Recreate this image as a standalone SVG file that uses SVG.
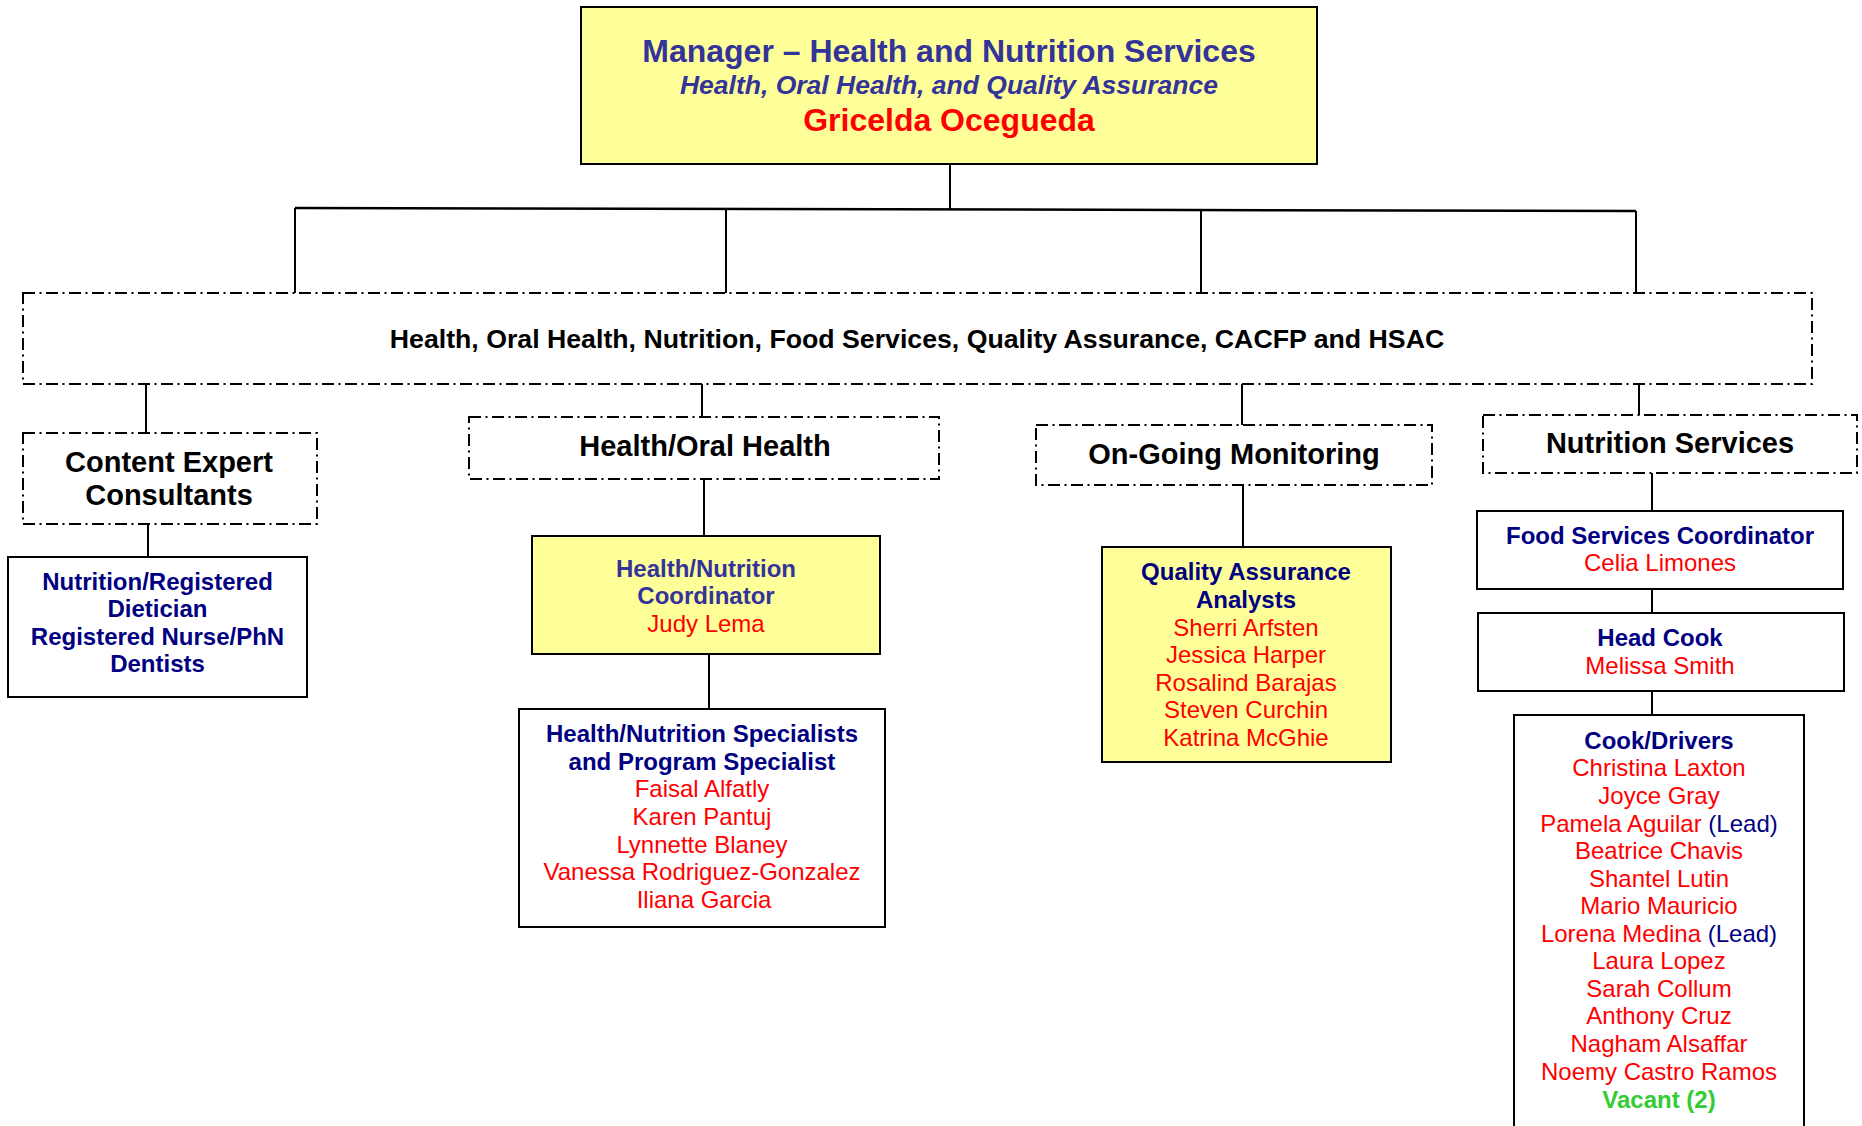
<svg xmlns="http://www.w3.org/2000/svg" width="1862" height="1126" viewBox="0 0 1862 1126">
<style>
text{font-family:"Liberation Sans",Arial,sans-serif;text-anchor:middle}
.box{fill:#fff;stroke:#000;stroke-width:2}
.ybox{fill:#ffff99;stroke:#000;stroke-width:2}
.dbox{fill:#fff;stroke:#000;stroke-width:2;stroke-dasharray:12 4.5 2 4.5}
.ln{stroke:#000;stroke-width:2;fill:none}
.t{font-size:24px;font-weight:bold;fill:#000080}
.tp{font-size:24px;font-weight:bold;fill:#333399}
.n{font-size:24px;fill:#ff0000}
.nv{fill:#000080}
.h{font-size:29px;font-weight:bold;fill:#000}
.g{font-size:24px;font-weight:bold;fill:#33cc33}
</style>
<rect width="1862" height="1126" fill="#fff"/>
<g id="connectors">
<line class="ln" x1="950" y1="164" x2="950" y2="209"/>
<line class="ln" x1="295" y1="208" x2="1636" y2="211" style="stroke-width:2.5"/>
<line class="ln" x1="295" y1="208" x2="295" y2="293"/>
<line class="ln" x1="726" y1="210" x2="726" y2="293"/>
<line class="ln" x1="1201" y1="210" x2="1201" y2="293"/>
<line class="ln" x1="1636" y1="211" x2="1636" y2="293"/>
<line class="ln" x1="146" y1="384" x2="146" y2="433"/>
<line class="ln" x1="702" y1="384" x2="702" y2="417"/>
<line class="ln" x1="1242" y1="384" x2="1242" y2="425"/>
<line class="ln" x1="1639" y1="384" x2="1639" y2="415"/>
<line class="ln" x1="148" y1="524" x2="148" y2="557"/>
<line class="ln" x1="704" y1="479" x2="704" y2="536"/>
<line class="ln" x1="709" y1="654" x2="709" y2="709"/>
<line class="ln" x1="1243" y1="485" x2="1243" y2="547"/>
<line class="ln" x1="1652" y1="473" x2="1652" y2="511"/>
<line class="ln" x1="1652" y1="589" x2="1652" y2="613"/>
<line class="ln" x1="1652" y1="691" x2="1652" y2="715"/>
</g>
<g id="manager">
<rect class="ybox" x="581" y="7" width="736" height="157"/>
<text x="949" y="62" style="font-size:32px;font-weight:bold;fill:#333399">Manager – Health and Nutrition Services</text>
<text x="949" y="94" style="font-size:26.5px;font-weight:bold;font-style:italic;fill:#333399">Health, Oral Health, and Quality Assurance</text>
<text x="949" y="131" style="font-size:32px;font-weight:bold;fill:#ff0000">Gricelda Ocegueda</text>
</g>
<g id="program-areas">
<rect class="dbox" x="23" y="293" width="1789" height="91"/>
<text x="917" y="348" style="font-size:26.7px;font-weight:bold;fill:#000">Health, Oral Health, Nutrition, Food Services, Quality Assurance, CACFP and HSAC</text>
</g>
<g id="content-expert">
<rect class="dbox" x="23" y="433" width="294" height="91"/>
<text class="h" x="169" y="472">Content Expert</text>
<text class="h" x="169" y="505">Consultants</text>
</g>
<g id="consultants">
<rect class="box" x="8" y="557" width="299" height="140"/>
<text class="t" x="157.5" y="590">Nutrition/Registered</text>
<text class="t" x="157.5" y="617">Dietician</text>
<text class="t" x="157.5" y="645">Registered Nurse/PhN</text>
<text class="t" x="157.5" y="672">Dentists</text>
</g>
<g id="health-oral">
<rect class="dbox" x="469" y="417" width="470" height="62"/>
<text class="h" x="705" y="456">Health/Oral Health</text>
</g>
<g id="hn-coordinator">
<rect class="ybox" x="532" y="536" width="348" height="118"/>
<text class="tp" x="706" y="577">Health/Nutrition</text>
<text class="tp" x="706" y="604">Coordinator</text>
<text class="n" x="706" y="632">Judy Lema</text>
</g>
<g id="hn-specialists">
<rect class="box" x="519" y="709" width="366" height="218"/>
<text class="t" x="702" y="742">Health/Nutrition Specialists</text>
<text class="t" x="702" y="770">and Program Specialist</text>
<text class="n" x="702" y="797">Faisal Alfatly</text>
<text class="n" x="702" y="825">Karen Pantuj</text>
<text class="n" x="702" y="853">Lynnette Blaney</text>
<text class="n" x="702" y="880">Vanessa Rodriguez-Gonzalez</text>
<text class="n" x="704" y="908">Iliana Garcia</text>
</g>
<g id="monitoring">
<rect class="dbox" x="1036" y="425" width="396" height="60"/>
<text class="h" x="1234" y="464">On-Going Monitoring</text>
</g>
<g id="qa-analysts">
<rect class="ybox" x="1102" y="547" width="289" height="215"/>
<text class="t" x="1246" y="580">Quality Assurance</text>
<text class="t" x="1246" y="607.5">Analysts</text>
<text class="n" x="1246" y="635.5">Sherri Arfsten</text>
<text class="n" x="1246" y="663">Jessica Harper</text>
<text class="n" x="1246" y="690.5">Rosalind Barajas</text>
<text class="n" x="1246" y="718">Steven Curchin</text>
<text class="n" x="1246" y="745.5">Katrina McGhie</text>
</g>
<g id="nutrition-services">
<rect class="dbox" x="1483" y="415" width="374" height="58"/>
<text class="h" x="1670" y="453">Nutrition Services</text>
</g>
<g id="food-coordinator">
<rect class="box" x="1477" y="511" width="366" height="78"/>
<text class="t" x="1660" y="543.5">Food Services Coordinator</text>
<text class="n" x="1660" y="570.5">Celia Limones</text>
</g>
<g id="head-cook">
<rect class="box" x="1478" y="613" width="366" height="78"/>
<text class="t" x="1660" y="646">Head Cook</text>
<text class="n" x="1660" y="673.5">Melissa Smith</text>
</g>
<g id="cook-drivers">
<rect class="box" x="1514" y="715" width="290" height="440"/>
<text class="t" x="1659" y="748.5">Cook/Drivers</text>
<text class="n" x="1659" y="776">Christina Laxton</text>
<text class="n" x="1659" y="803.5">Joyce Gray</text>
<text class="n" x="1659" y="831.5">Pamela Aguilar <tspan class="nv">(Lead)</tspan></text>
<text class="n" x="1659" y="858.5">Beatrice Chavis</text>
<text class="n" x="1659" y="886.5">Shantel Lutin</text>
<text class="n" x="1659" y="914">Mario Mauricio</text>
<text class="n" x="1659" y="941.5">Lorena Medina <tspan class="nv">(Lead)</tspan></text>
<text class="n" x="1659" y="969">Laura Lopez</text>
<text class="n" x="1659" y="996.5">Sarah Collum</text>
<text class="n" x="1659" y="1024">Anthony Cruz</text>
<text class="n" x="1659" y="1052">Nagham Alsaffar</text>
<text class="n" x="1659" y="1080">Noemy Castro Ramos</text>
<text class="g" x="1659" y="1107.5">Vacant (2)</text>
</g>
</svg>
